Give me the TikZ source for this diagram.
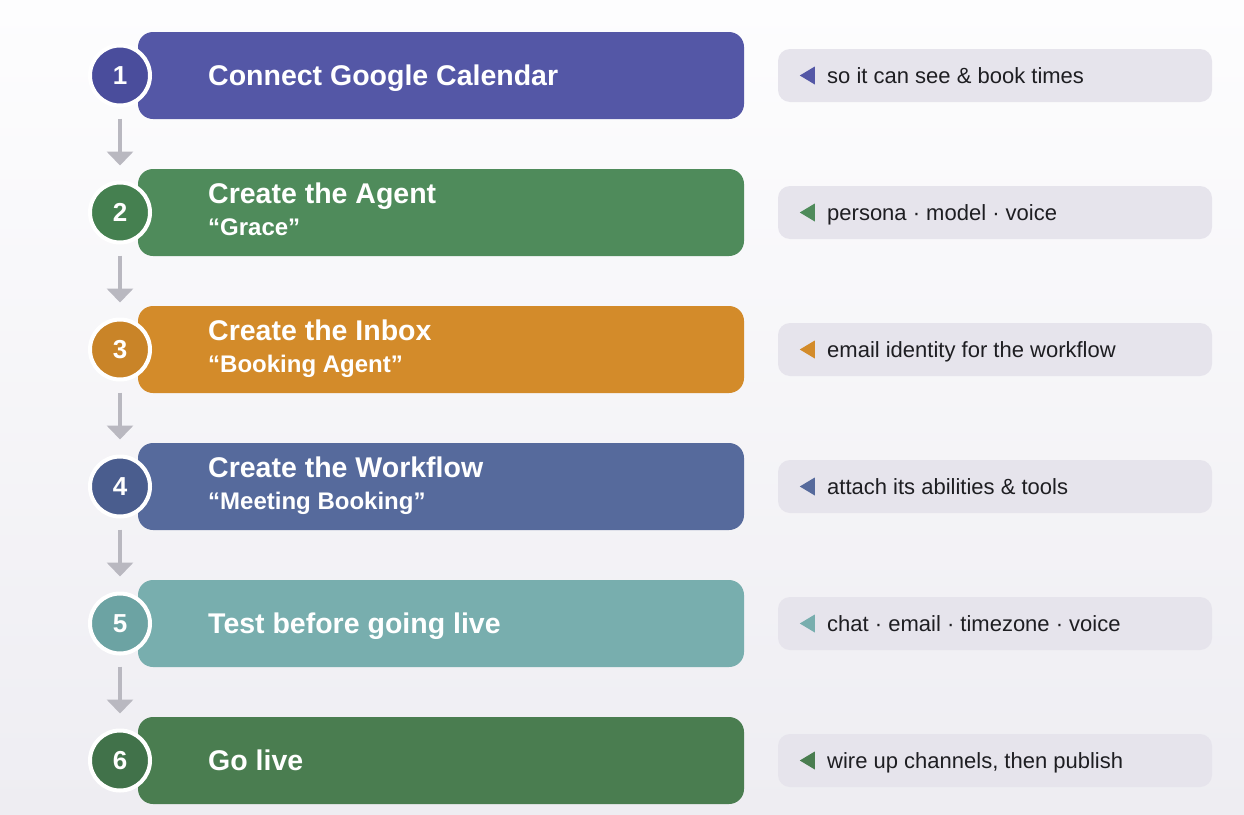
\documentclass[tikz,border=0pt]{standalone}
\usepackage{fontspec}
\setmainfont{Liberation Sans}
\usetikzlibrary{arrows.meta}
\definecolor{bgtop}{HTML}{FDFDFE}
\definecolor{bgbot}{HTML}{EEEDF2}
\definecolor{barA}{HTML}{5457A6}
\definecolor{cirA}{HTML}{4A4D9C}
\definecolor{barB}{HTML}{4F8B5B}
\definecolor{cirB}{HTML}{458050}
\definecolor{barC}{HTML}{D38B2A}
\definecolor{cirC}{HTML}{C98428}
\definecolor{barD}{HTML}{566A9C}
\definecolor{cirD}{HTML}{4A5D8E}
\definecolor{barE}{HTML}{78AEAE}
\definecolor{cirE}{HTML}{6CA3A3}
\definecolor{barF}{HTML}{4A7D50}
\definecolor{cirF}{HTML}{41724A}
\definecolor{notebg}{HTML}{E6E4EC}
\definecolor{notetxt}{HTML}{1E1E22}
\definecolor{arrowgray}{HTML}{B9B8C0}
\begin{document}
\begin{tikzpicture}[x=1pt,y=-1pt,
  bar/.style={rounded corners=15pt, minimum width=606pt, minimum height=87pt, inner sep=0pt},
  circ/.style={circle, draw=white, line width=4pt, minimum size=60pt, inner sep=0pt, text=white, font=\fontsize{26}{30}\selectfont\bfseries},
  title/.style={anchor=base west, text=white, font=\fontsize{28.5}{32}\selectfont\bfseries, inner sep=0pt},
  subtitle/.style={anchor=base west, text=white, font=\fontsize{24}{28}\selectfont\bfseries, inner sep=0pt},
  note/.style={rounded corners=12pt, fill=notebg, minimum width=434pt, minimum height=53pt, inner sep=0pt},
  notetext/.style={anchor=base west, text=notetxt, font=\fontsize{22}{26}\selectfont, inner sep=0pt},
  flow/.style={draw=arrowgray, line width=3.5pt, -{Triangle[width=26pt,length=14pt]}, shorten <=11pt, shorten >=15pt}]
\useasboundingbox (0,0) rectangle (1244,814);
\shade[top color=bgtop, bottom color=bgbot] (0,0) rectangle (1244,814);

% bars
\node[bar, fill=barA] (b1) at (441,75.5) {};
\node[bar, fill=barB] (b2) at (441,212.5) {};
\node[bar, fill=barC] (b3) at (441,349.5) {};
\node[bar, fill=barD] (b4) at (441,486.5) {};
\node[bar, fill=barE] (b5) at (441,623.5) {};
\node[bar, fill=barF] (b6) at (441,760.5) {};

% circles
\node[circ, fill=cirA] (c1) at (120,75.5) {1};
\node[circ, fill=cirB] (c2) at (120,212.5) {2};
\node[circ, fill=cirC] (c3) at (120,349.5) {3};
\node[circ, fill=cirD] (c4) at (120,486.5) {4};
\node[circ, fill=cirE] (c5) at (120,623.5) {5};
\node[circ, fill=cirF] (c6) at (120,760.5) {6};

% titles
\node[title] (t1) at (208,85) {Connect Google Calendar};
\node[title] (t2) at (208,203) {Create the Agent};
\node[subtitle] (s2) at (208,235.5) {“Grace”};
\node[title] (t3) at (208,340) {Create the Inbox};
\node[subtitle] (s3) at (208,372.5) {“Booking Agent”};
\node[title] (t4) at (208,477) {Create the Workflow};
\node[subtitle] (s4) at (208,509.5) {“Meeting Booking”};
\node[title] (t5) at (208,633) {Test before going live};
\node[title] (t6) at (208,770) {Go live};

% flow arrows
\draw[flow] (c1.south) -- (c2.north);
\draw[flow] (c2.south) -- (c3.north);
\draw[flow] (c3.south) -- (c4.north);
\draw[flow] (c4.south) -- (c5.north);
\draw[flow] (c5.south) -- (c6.north);

% notes
\node[note] (n1) at (995,75.5) {};
\node[note] (n2) at (995,212.5) {};
\node[note] (n3) at (995,349.5) {};
\node[note] (n4) at (995,486.5) {};
\node[note] (n5) at (995,623.5) {};
\node[note] (n6) at (995,760.5) {};

\fill[barA] ([shift={(37,-9)}]n1.west) -- ([shift={(37,9)}]n1.west) -- ([shift={(22,0)}]n1.west) -- cycle;
\fill[barB] ([shift={(37,-9)}]n2.west) -- ([shift={(37,9)}]n2.west) -- ([shift={(22,0)}]n2.west) -- cycle;
\fill[barC] ([shift={(37,-9)}]n3.west) -- ([shift={(37,9)}]n3.west) -- ([shift={(22,0)}]n3.west) -- cycle;
\fill[barD] ([shift={(37,-9)}]n4.west) -- ([shift={(37,9)}]n4.west) -- ([shift={(22,0)}]n4.west) -- cycle;
\fill[barE] ([shift={(37,-9)}]n5.west) -- ([shift={(37,9)}]n5.west) -- ([shift={(22,0)}]n5.west) -- cycle;
\fill[barF] ([shift={(37,-9)}]n6.west) -- ([shift={(37,9)}]n6.west) -- ([shift={(22,0)}]n6.west) -- cycle;

\node[notetext] (m1) at (827,83) {so it can see \& book times};
\node[notetext] (m2) at (827,220) {persona · model · voice};
\node[notetext] (m3) at (827,357) {email identity for the workflow};
\node[notetext] (m4) at (827,494) {attach its abilities \& tools};
\node[notetext] (m5) at (827,631) {chat · email · timezone · voice};
\node[notetext] (m6) at (827,768) {wire up channels, then publish};
\end{tikzpicture}
\end{document}
